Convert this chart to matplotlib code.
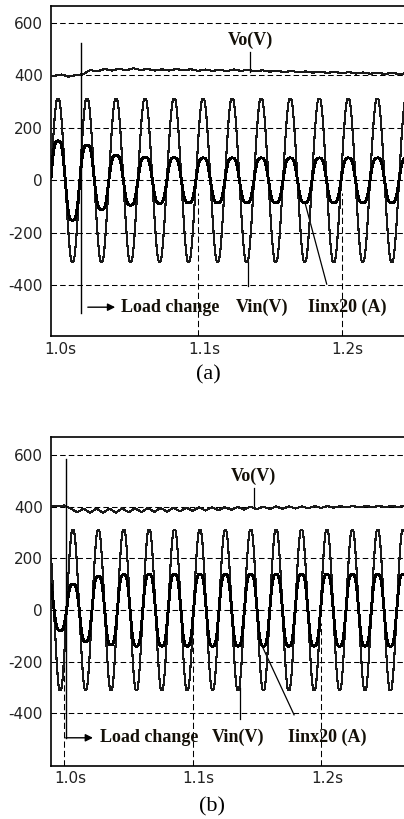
import numpy as np
import matplotlib
matplotlib.use('Agg')
import matplotlib.pyplot as plt
from matplotlib.transforms import ScaledTranslation

# ---------------- data ----------------
y_ticks = [-400, -200, 0, 200, 400, 600]
y_labels = ['-400', '-200', '0', '200', '400', '600']
x_ticks = [1.0, 1.1, 1.2]
x_labels = ['1.0s', '1.1s', '1.2s']

# panel (a): load reduced at ~1.019 s
freq_a = 49.5            # Hz
vin_peak_t_a = 1.0026    # time of first positive Vin peak
vin_amp_a = 310
# current x20 peak of each half cycle, first one is the half cycle before vin_peak_t_a
iin_a = [-145, 150, -152, 133, -112, 96, -95, 88, -88, 86, -86, 85, -86, 85,
         -86, 85, -86, 85, -86, 85, -86, 85, -86, 85, -86, 85, -86]
vo_t0_a = 0.995          # Vo read every 5 ms
vo_a = [400, 398, 403, 395, 401, 404, 420, 415, 424, 418,
        425, 419, 427, 420, 424, 418, 423, 418, 424, 419,
        423, 417, 422, 417, 421, 416, 422, 417, 421, 415,
        419, 414, 418, 412, 417, 411, 415, 410, 414, 409,
        413, 408, 412, 407, 411, 406, 410, 405, 409, 405,
        408]
load_t_a = 1.0186

# panel (b): load increased at 1.0 s
freq_b = 50.5
vin_peak_t_b = 1.0066
vin_amp_b = 310
# first one is the half cycle one period before vin_peak_t_b
iin_b = [120, -80, 100, -122, 130, -135, 137, -140, 138, -140, 138, -140,
         138, -140, 138, -140, 138, -140, 138, -140, 138, -140, 138, -140,
         138, -140, 138, -140, 138]
vo_t0_b = 0.985
vo_b = [402, 404, 402, 405, 392, 378, 393, 376, 393, 376,
        393, 377, 394, 378, 394, 379, 395, 380, 395, 381,
        396, 382, 396, 384, 397, 385, 398, 386, 398, 388,
        399, 389, 400, 390, 400, 391, 401, 392, 401, 393,
        401, 394, 402, 395, 402, 396, 402, 397, 403, 397,
        403, 398, 403, 398, 403, 399, 403]
load_t_b = 1.001


def vin_shape(ph):
    # slightly flat topped like the simulator trace
    return np.clip(np.cos(ph) / 0.97, -1, 1)


def iin_shape(ph):
    return (np.cos(ph) - 0.1 * np.cos(3 * ph)) / 0.9


def wave(t, f, t_pk, peaks, n_first, shape):
    half = 0.5 / f
    n = np.round((t - t_pk) / half).astype(int)
    idx = np.clip(n - n_first, 0, len(peaks) - 1)
    amp = np.abs(np.asarray(peaks, float))[idx]
    return amp * shape(2 * np.pi * f * (t - t_pk))


def draw_panel(ax, xlim, ylim, f, t_pk, vin_amp, iin, n_first, vo_t0, vo,
               load_t, vgrid):
    # coarse time step, like the simulator output
    t = np.arange(xlim[0], xlim[1] + 0.0005, 0.0005)
    vin = wave(t, f, t_pk, [vin_amp] * len(iin), n_first, vin_shape)
    iin_w = wave(t, f, t_pk, iin, n_first, iin_shape)
    vo_t = vo_t0 + 0.005 * np.arange(len(vo))

    for y in y_ticks:
        ax.axhline(y, color='black', lw=0.75, ls=(0, (5.3, 3)), zorder=1)
    for x in vgrid:
        ax.vlines(x, ylim[0], -50, color='black', lw=0.75, ls=(0, (6, 3)), zorder=1)

    ax.plot(t, vin, color='#1a1a1a', lw=0.8, zorder=3, antialiased=False)
    ax.plot(t, iin_w, color='black', lw=1.4, zorder=4, antialiased=False)
    ax.plot(vo_t, vo, color='#1a1a1a', lw=0.8, zorder=3, antialiased=False)

    ax.set_xlim(*xlim)
    ax.set_ylim(*ylim)
    ax.set_yticks(y_ticks)
    ax.set_yticklabels(y_labels)
    ax.set_xticks(x_ticks)
    ax.set_xticklabels(x_labels)
    ax.tick_params(length=0, labelsize=11, colors='#222222')
    ax.tick_params(axis='y', pad=5.8)
    ax.tick_params(axis='x', pad=4)
    for lab in ax.get_xticklabels():
        lab.set_transform(lab.get_transform() + ScaledTranslation(0.06, 0, ax.figure.dpi_scale_trans))
    ax.spines['right'].set_visible(False)
    for s in ['left', 'top', 'bottom']:
        ax.spines[s].set_linewidth(1.2)


bold = dict(family=['Liberation Serif', 'DejaVu Serif'], fontweight='bold',
            fontsize=13, color='#141008', va='center')

fig = plt.figure(figsize=(4.04, 8.19), dpi=100)

# ---------------- (a) ----------------
ax1 = fig.add_axes([0.1262, 0.5897, 0.8738, 0.4029])
draw_panel(ax1, (0.9977, 1.2434), (-594, 664), freq_a, vin_peak_t_a, vin_amp_a,
           iin_a, -1, vo_t0_a, vo_a, load_t_a, [1.1, 1.2])
ax1.plot([load_t_a, load_t_a], [525, -508], color='black', lw=1.0, zorder=5)
ax1.annotate('', xy=(1.0443, -484), xytext=(1.0214, -484),
             arrowprops=dict(arrowstyle='-|>', color='black', lw=1.0, mutation_scale=11))
ax1.text(1.0464, -484, 'Load change', ha='left', **bold)
ax1.text(1.1362, 534, 'Vo(V)', ha='center', **bold)
ax1.plot([1.1362, 1.1362], [488, 412], color='black', lw=0.9)
ax1.text(1.1445, -484, 'Vin(V)', ha='center', **bold)
ax1.plot([1.1348, 1.1348], [-313, -404], color='black', lw=0.9)
ax1.text(1.2037, -483, 'Iinx20 (A)', ha='center', **bold)
ax1.plot([1.1745, 1.1896], [-86, -396], color='black', lw=0.9)
fig.text(0.5149, 0.5427, '(a)', ha='center', va='center', fontsize=16,
         family=['Liberation Serif', 'DejaVu Serif'])

# ---------------- (b) ----------------
ax2 = fig.add_axes([0.1262, 0.0651, 0.8738, 0.4017])
draw_panel(ax2, (0.98947, 1.26472), (-603, 671), freq_b, vin_peak_t_b, vin_amp_b,
           iin_b, -2, vo_t0_b, vo_b, load_t_b, [1.0, 1.1, 1.2])
ax2.plot([load_t_b, load_t_b], [585, -495], color='black', lw=1.0, zorder=5)
ax2.annotate('', xy=(1.0222, -495), xytext=(load_t_b, -495),
             arrowprops=dict(arrowstyle='-|>', color='black', lw=1.0, mutation_scale=11,
                             shrinkA=0, shrinkB=0))
ax2.text(1.0277, -492, 'Load change', ha='left', **bold)
ax2.text(1.1472, 519, 'Vo(V)', ha='center', **bold)
ax2.plot([1.1475, 1.1475], [472, 403], color='black', lw=0.9)
ax2.text(1.1351, -492, 'Vin(V)', ha='center', **bold)
ax2.plot([1.1369, 1.1369], [-302, -422], color='black', lw=0.9)
ax2.text(1.2045, -492, 'Iinx20 (A)', ha='center', **bold)
ax2.plot([1.1543, 1.1790], [-142, -406], color='black', lw=0.9)
fig.text(0.5248, 0.0147, '(b)', ha='center', va='center', fontsize=16,
         family=['Liberation Serif', 'DejaVu Serif'])

fig.savefig('out.png', dpi=100)
